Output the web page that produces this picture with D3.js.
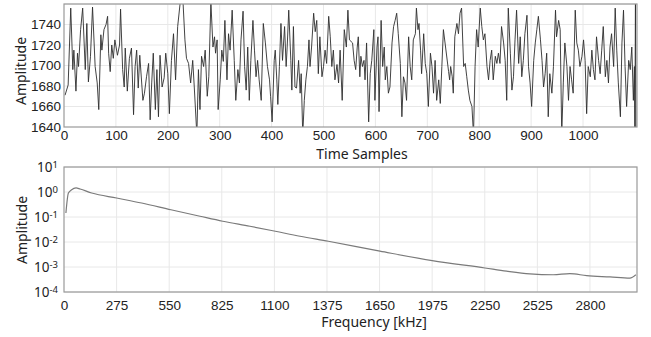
<!DOCTYPE html>
<html>
<head>
<meta charset="utf-8">
<script src="https://cdn.jsdelivr.net/npm/d3@7"></script>
<style>
  body { margin: 0; background: #fff; }
  svg { font-family: "Noto Sans", sans-serif; }
  .grid line { stroke: #e8e8e8; stroke-width: 1; }
  .frame { fill: none; stroke: #9a9a9a; stroke-width: 1.2; }
  .tick text, .lbl { fill: #222; }
</style>
</head>
<body>
<svg id="graphic" width="651" height="337"></svg>
<script>
// time trace, [sample, amplitude] (peaks and troughs)
const timeSeries = [
  [2,1671],[8,1681],[13,1756],[17,1696],[19,1715],[23,1675],[26,1712],[28,1699],[32,1735],[36,1756],
  [41,1696],[44,1741],[47,1684],[51,1709],[55,1757],[60,1699],[64,1683],[67,1657],[71,1730],[73,1715],
  [77,1735],[81,1740],[84,1748],[86,1712],[89,1694],[92,1720],[95,1707],[98,1725],[103,1710],[107,1720],
  [109,1755],[113,1696],[116,1679],[118,1717],[122,1675],[126,1707],[130,1717],[134,1652],[137,1699],[140,1715],
  [143,1678],[146,1710],[152,1666],[155,1673],[159,1689],[163,1702],[166,1647],[169,1683],[172,1712],[176,1657],
  [179,1696],[182,1650],[185,1710],[189,1679],[193,1688],[196,1712],[200,1692],[203,1653],[207,1705],[211,1731],
  [215,1686],[219,1738],[224,1762],[229,1765],[233,1725],[236,1707],[240,1702],[244,1683],[248,1705],[251,1679],
  [256,1632],[259,1696],[262,1657],[265,1709],[269,1699],[272,1715],[276,1670],[279,1689],[283,1762],[287,1718],
  [290,1728],[292,1712],[295,1725],[297,1657],[301,1686],[304,1715],[307,1704],[310,1744],[314,1686],[317,1731],
  [320,1715],[324,1754],[328,1705],[331,1666],[335,1696],[338,1683],[341,1725],[345,1753],[348,1699],[351,1676],
  [354,1718],[357,1666],[360,1705],[364,1744],[367,1715],
  [370,1689],[373,1705],[376,1686],[380,1666],[384,1741],[388,1722],[392,1699],[396,1686],[398,1670],[401,1645],
  [405,1705],[407,1715],[410,1686],[412,1662],[415,1699],[418,1741],[421,1705],[425,1738],[428,1699],[430,1718],
  [433,1754],[437,1705],[439,1676],[442,1738],[445,1679],[448,1678],[452,1705],[455,1673],[457,1692],[460,1632],
  [463,1666],[466,1686],[469,1699],[472,1725],[474,1699],[477,1718],[481,1751],[484,1733],[487,1744],[490,1692],
  [493,1728],[497,1689],[500,1699],[503,1715],[506,1702],[510,1748],[513,1728],[516,1699],[519,1715],[522,1686],
  [526,1701],[529,1683],[532,1715],[536,1666],[540,1735],[544,1718],[547,1754],[550,1725],
  [556,1722],[559,1705],[562,1696],[565,1718],[567,1728],[570,1689],[572,1709],[575,1699],[578,1705],[580,1686],
  [583,1722],[587,1645],[590,1692],[593,1705],[597,1735],[599,1666],[603,1718],[605,1728],[607,1655],[611,1744],
  [614,1699],[617,1718],[619,1686],[622,1699],[625,1673],[628,1679],[632,1722],[635,1738],[638,1744],[641,1751],
  [644,1731],[648,1702],[651,1650],[654,1689],[657,1683],[660,1666],[664,1728],[667,1699],[670,1686],[673,1725],
  [677,1731],[679,1756],[682,1735],[684,1741],[687,1715],[689,1692],[693,1731],[696,1702],[699,1692],[702,1660],
  [706,1712],[709,1699],[712,1673],[715,1705],[718,1666],[722,1686],[725,1663],[728,1699],[731,1735],
  [741,1694],[743,1686],[745,1699],[748,1689],[750,1673],[753,1728],[757,1741],[760,1731],[763,1751],[766,1756],
  [770,1699],[773,1702],[776,1689],[779,1676],[782,1666],[786,1660],[789,1632],[792,1699],[795,1735],[798,1718],
  [802,1756],[805,1738],[808,1725],[811,1731],[815,1699],[818,1686],[821,1705],[824,1715],[827,1686],[831,1709],
  [834,1702],[837,1712],[840,1702],[843,1738],[847,1722],[850,1705],[853,1666],[856,1756],[860,1712],[863,1676],
  [866,1689],[869,1725],[872,1754],[876,1702],[879,1728],[882,1689],[885,1705],[888,1731],[892,1749],[895,1699],
  [898,1683],[901,1660],[905,1705],[908,1722],[911,1735],[914,1748],
  [918,1725],[921,1705],[924,1679],[927,1692],[930,1712],[933,1650],[936,1692],[940,1673],[943,1699],[947,1754],
  [949,1728],[953,1744],[956,1735],[959,1632],[962,1683],[965,1722],[969,1699],[972,1666],[975,1699],[978,1686],
  [981,1673],[985,1754],[988,1722],[991,1715],[994,1699],[998,1709],[1001,1725],[1004,1705],[1007,1653],[1010,1699],
  [1014,1689],[1017,1715],[1020,1696],[1023,1686],[1026,1728],[1030,1705],[1033,1692],[1036,1715],[1039,1738],[1043,1689],
  [1046,1705],[1049,1683],[1052,1718],[1055,1731],[1059,1699],[1062,1756],[1065,1715],[1068,1683],[1072,1650],[1075,1722],
  [1078,1754],[1081,1699],[1084,1660],[1088,1705],[1091,1696],[1094,1718],[1097,1666],[1099,1699],[1100,1625],[1101,1775],
  [1102,1625]
];
const timeTicks = [0,100,200,300,400,500,600,700,800,900,1000];
const ampTicks = [1640,1660,1680,1700,1720,1740];

// amplitude spectrum, [kHz, amplitude]
const spectrum = [
  [10,0.145],[23,0.91],[40,1.24],[63,1.45],[84,1.32],[145,0.91],[275,0.575],[406,0.363],[559,0.195],
  [711,0.107],[830,0.0676],[972,0.0427],[1105,0.0269],[1234,0.017],[1382,0.0107],
  [1652,0.0043],[1925,0.0018],[2201,0.00091],[2314,0.00068],[2436,0.00053],[2558,0.00049],
  [2645,0.00054],[2733,0.00045],[2855,0.0004],[2959,0.00036],[2990,0.00049]
];
const freqTicks = [0,275,550,825,1100,1375,1650,1925,2200,2475,2750];
const freqTickLabels = ['0','275','550','825','1100','1375','1650','1975','2250','2525','2800'];
const decadeExps = [1,0,-1,-2,-3,-4];

const svg = d3.select('#graphic');
const left = 64, right = 637;

// ---------- top panel ----------
const x1 = d3.scaleLinear().domain([0, 1104]).range([left, right]);
const y1 = d3.scaleLinear().domain([1640, 1760]).range([127, 4]);

const g1 = svg.append('g');
g1.append('clipPath').attr('id', 'clip1').append('rect')
  .attr('x', left).attr('y', 4).attr('width', right - left).attr('height', 123);

const grid1 = g1.append('g').attr('class', 'grid');
grid1.selectAll('.v').data(timeTicks.slice(1)).join('line')
  .attr('x1', d => x1(d)).attr('x2', d => x1(d)).attr('y1', 4).attr('y2', 127);
grid1.selectAll('.h').data(ampTicks.slice(1).concat([1760])).join('line')
  .attr('y1', d => y1(d)).attr('y2', d => y1(d)).attr('x1', left).attr('x2', right);

g1.append('path').datum(timeSeries)
  .attr('clip-path', 'url(#clip1)')
  .attr('fill', 'none').attr('stroke', '#2e2e2e').attr('stroke-width', 0.9)
  .attr('stroke-linejoin', 'round')
  .attr('d', d3.line().x(d => x1(d[0])).y(d => y1(d[1])));

g1.append('rect').attr('class', 'frame')
  .attr('x', left).attr('y', 4).attr('width', right - left).attr('height', 123);

g1.append('g').attr('transform', 'translate(0,127)')
  .call(d3.axisBottom(x1).tickValues(timeTicks).tickSize(0).tickPadding(3).tickFormat(d3.format('d')))
  .call(g => g.select('.domain').remove())
  .selectAll('text').attr('font-size', 13.5);

g1.append('g').attr('transform', 'translate(' + left + ',0)')
  .call(d3.axisLeft(y1).tickValues(ampTicks).tickSize(0).tickPadding(3).tickFormat(d3.format('d')))
  .call(g => g.select('.domain').remove())
  .selectAll('text').attr('font-size', 13.5);

g1.append('text').attr('class', 'lbl')
  .attr('transform', 'translate(26,71) rotate(-90)')
  .attr('text-anchor', 'middle').attr('font-size', 14)
  .text('Amplitude');

g1.append('text').attr('class', 'lbl')
  .attr('x', 362).attr('y', 159)
  .attr('text-anchor', 'middle').attr('font-size', 14)
  .text('Time Samples');

// ---------- bottom panel ----------
const x2 = d3.scaleLinear().domain([0, 2996]).range([left, right]);
const y2 = d3.scaleLog().domain([1e-4, 1e1]).range([292, 167]);

const g2 = svg.append('g');
g2.append('clipPath').attr('id', 'clip2').append('rect')
  .attr('x', left).attr('y', 167).attr('width', right - left).attr('height', 125);

const grid2 = g2.append('g').attr('class', 'grid');
grid2.selectAll('.v').data(freqTicks.slice(1)).join('line')
  .attr('x1', d => x2(d)).attr('x2', d => x2(d)).attr('y1', 167).attr('y2', 292);
grid2.selectAll('.h').data(decadeExps).join('line')
  .attr('y1', d => y2(Math.pow(10, d))).attr('y2', d => y2(Math.pow(10, d)))
  .attr('x1', left).attr('x2', right);

g2.append('path').datum(spectrum)
  .attr('clip-path', 'url(#clip2)')
  .attr('fill', 'none').attr('stroke', '#7a7a7a').attr('stroke-width', 1.2)
  .attr('d', d3.line().curve(d3.curveMonotoneX).x(d => x2(d[0])).y(d => y2(d[1])));

g2.append('rect').attr('class', 'frame')
  .attr('x', left).attr('y', 167).attr('width', right - left).attr('height', 125);

g2.append('g').attr('transform', 'translate(0,292)')
  .call(d3.axisBottom(x2).tickValues(freqTicks).tickSize(0).tickPadding(8)
    .tickFormat((d, i) => freqTickLabels[i]))
  .call(g => g.select('.domain').remove())
  .selectAll('text').attr('font-size', 13.5);

// log labels as 10 with superscript exponent
const ylab = g2.append('g').selectAll('text').data(decadeExps).join('text')
  .attr('class', 'lbl')
  .attr('x', 58)
  .attr('y', d => y2(Math.pow(10, d)))
  .attr('dy', '0.36em')
  .attr('text-anchor', 'end')
  .attr('font-size', 13.5);
ylab.append('tspan').text('10');
ylab.append('tspan').attr('dy', '-0.45em').attr('font-size', 9.5).text(d => String(d));

g2.append('text').attr('class', 'lbl')
  .attr('transform', 'translate(27,230) rotate(-90)')
  .attr('text-anchor', 'middle').attr('font-size', 14)
  .text('Amplitude');

g2.append('text').attr('class', 'lbl')
  .attr('x', 374).attr('y', 327)
  .attr('text-anchor', 'middle').attr('font-size', 14)
  .text('Frequency [kHz]');
</script>
</body>
</html>
